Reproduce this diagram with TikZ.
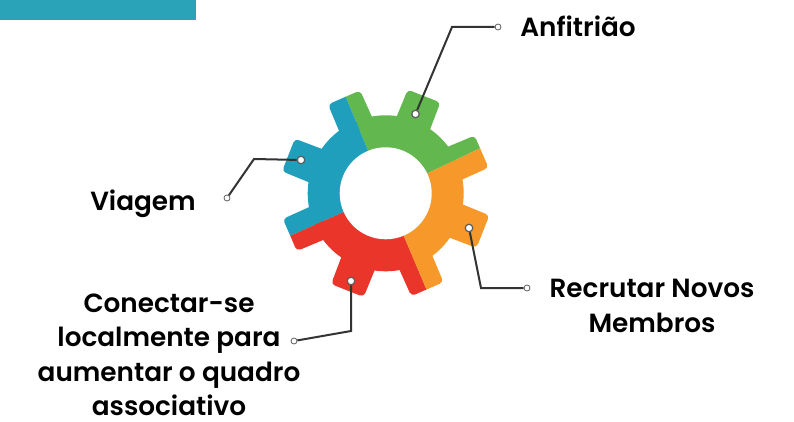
\documentclass[tikz,border=0pt]{standalone}
\usepackage{fontspec}
\setmainfont{Poppins}[BoldFont={Poppins SemiBold}]
\definecolor{cbar}{HTML}{2AA2B8}
\definecolor{cgreen}{HTML}{62B84E}
\definecolor{cblue}{HTML}{1F9FBB}
\definecolor{corange}{HTML}{F7992A}
\definecolor{cred}{HTML}{EA352B}
\definecolor{cline}{HTML}{333333}
\newcommand{\gearsector}[3]{%
  \begin{scope}
    \clip (gc) -- ++(#1:140) arc[start angle=#1,end angle=#2,radius=140] -- cycle;
    \fill[#3] (gc) circle[radius=78];
    \foreach \a in {23.5,68.5,...,338.5} {
      \fill[#3,shift={(gc)},rotate=\a,rounded corners=4pt] (68,-18) -- (104.5,-17.5) -- (104.5,17.5) -- (68,18) -- cycle;
    }
  \end{scope}}
\tikzset{
  lead/.style={draw=cline,line width=2pt,line join=miter},
  dotend/.style={circle,draw=cline!80,fill=white,line width=.8pt,minimum size=6pt,inner sep=0pt},
  dotgear/.style={circle,draw=cline!80,fill=white,line width=1.2pt,minimum size=7.5pt,inner sep=0pt},
  label/.style={font=\fontsize{26.3}{34.4}\selectfont\bfseries,align=center,text=black,inner sep=0pt},
}
\begin{document}
\begin{tikzpicture}[x=1pt,y=1pt]
\useasboundingbox (0,0) rectangle (794,421);
\fill[white] (0,0) rectangle (794,421);
\fill[cbar] (0,401) rectangle (196,421);
\coordinate (gc) at (385.7,227.7);
\gearsector{25.5}{112.5}{cgreen}
\gearsector{112.5}{204}{cblue}
\gearsector{204}{293}{cred}
\gearsector{293}{385.5}{corange}
\fill[white] (gc) circle[radius=46];
\coordinate (b1) at (452,394);
\coordinate (b2) at (254,262);
\coordinate (b3) at (481,133);
\coordinate (b4) at (351,90);
\node[dotend] (d1a) at (498,394) {};
\node[dotgear] (d1b) at (415.5,307) {};
\node[dotend] (d2a) at (227,223) {};
\node[dotgear] (d2b) at (301,261) {};
\node[dotend] (d3a) at (527,133) {};
\node[dotgear] (d3b) at (469,193) {};
\node[dotend] (d4a) at (294,80) {};
\node[dotgear] (d4b) at (351,140) {};
\draw[lead] (d1a) -- (b1) -- (d1b);
\draw[lead] (d2a) -- (b2) -- (d2b);
\draw[lead] (d3a) -- (b3) -- (d3b);
\draw[lead] (d4a) -- (b4) -- (d4b);
\node[label] (t1) at (578,395) {Anfitrião};
\node[label] (t2) at (143,217) {Viagem};
\node[label] (t3) at (652,115) {Recrutar Novos\\Membros};
\node[label] (t4) at (169,66) {Conectar-se\\localmente para\\aumentar o quadro\\associativo};
\end{tikzpicture}
\end{document}
